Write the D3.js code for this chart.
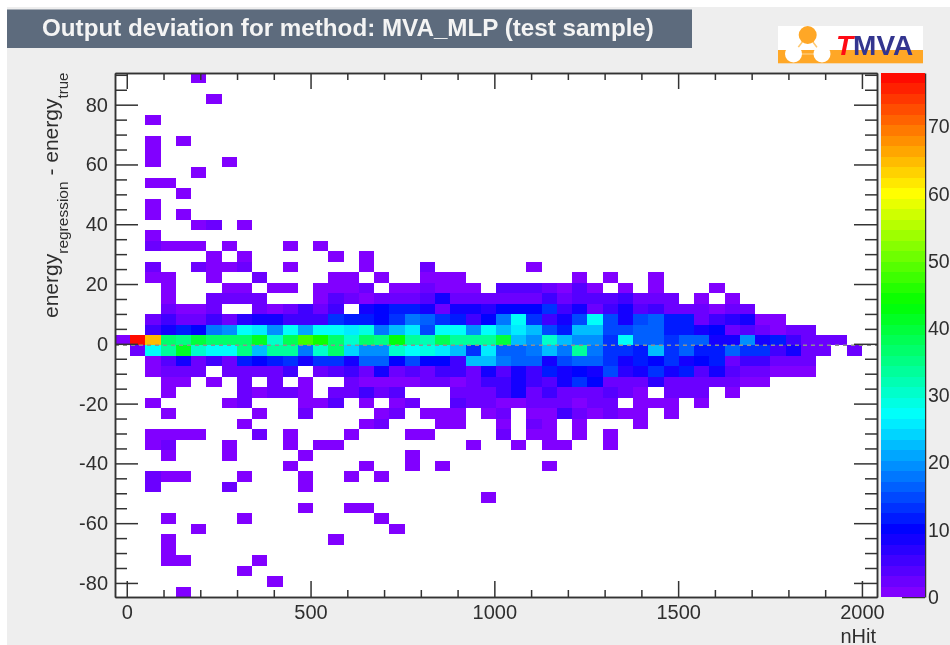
<!DOCTYPE html>
<html><head><meta charset="utf-8">
<script src="https://cdn.jsdelivr.net/npm/d3@7/dist/d3.min.js"></script>
<style>
html,body{margin:0;padding:0;background:#fff;overflow:hidden}
#w{width:950px;height:645px;filter:blur(0.65px)}
svg{display:block}
text{font-family:"Liberation Sans",Arial,sans-serif}
</style></head><body>
<div id="w"><svg id="c" width="950" height="645"></svg></div>
<script>
const titleText = "Output deviation for method: MVA_MLP (test sample)";
const xLabel = "nHit";
const xTicks = [0, 500, 1000, 1500, 2000];
const xMinorTicks = d3.range(0, 2001, 100);
const yTicks = [-80, -60, -40, -20, 0, 20, 40, 60, 80];
const yMinorTicks = d3.range(-80, 91, 5);
const zTicks = [0, 10, 20, 30, 40, 50, 60, 70];
const xBinCount = 50, yBinCount = 50;
const xRange = [-32, 2041], yRange = [-84.7, 90.6], zMax = 78;
const paletteStops = [0, 10, 27, 43.7, 60, 78];
const paletteColors = ["#8c00ff", "#0000ff", "#00ffff", "#00ff00", "#ffff00", "#ff0000"];

// [row from the top, [first column, counts...], [first column, counts...], ...]
const counts = [
[0,[5,1]],[2,[6,1]],[4,[2,1]],[6,[2,1],[4,1]],[7,[2,1]],[8,[2,1],[7,1]],[9,[5,1]],[10,[2,1,1]],[11,[4,1]],
[12,[2,1]],[13,[2,1],[4,1]],[14,[5,1,2],[8,1]],[15,[2,1]],[16,[2,2,1,1,1],[7,1],[11,1],[13,1]],
[17,[6,1],[8,1],[14,1],[16,1]],[18,[2,2],[5,2,1,1,2],[11,1],[16,1],[20,2],[27,1]],
[19,[2,1,1],[6,1],[9,2],[14,1,1],[17,1],[20,1,1,1],[30,1],[32,1],[35,1]],
[20,[3,1],[7,1,1],[10,1,1],[13,1,1,1,2],[18,1,1,3,1,1,1],[25,4,4,4,2,1,4,1],[33,1],[35,1],[39,1]],
[21,[3,1],[6,3,3,2,3],[13,1,4,3,1,2,2,3,4,8,2,2,2,2,2,2,5,3,4,4,4,6,2,2,2],[38,1],[40,1]],
[22,[3,2,1,1,2],[9,2,1,2,5,2,6],[16,8,10,11,11,9,2,9,8,7,10,10,10,13,6,8,3,5,9,4,5,3,2,2,1,2,2]],
[23,[2,3,5,3,3,6,3,7,8,9,5,6,6,13,11,11,10,14,18,17,13,11,5,10,18,27,13,5,9,15,27,15,9,15,16,12,12,2,5,7,8,1,1]],
[24,[2,5,9,12,10,18,20,27,25,19,28,21,27,27,25,29,18,23,25,15,27,27,19,28,23,25,23,15,11,22,23,15,15,16,16,11,11,8,10,3,4,3,1,2,2]],
[25,[0,1,78,65,36,35,40,36,36,37,42,30,38,48,45,37,30,36,35,43,33,32,38,33,33,34,39,23,19,30,22,19,19,14,27,17,17,14,16,16,9,8,19,9,11,6,2,2,2]],
[26,[1,2,27,34,42,30,28,27,35,22,34,33,18,30,36,24,19,19,30,27,29,25,22,14,26,16,17,18,22,18,33,18,14,13,12,22,13,17,11,12,16,13,13,5,8,2,2],[48,2]],
[27,[2,1,4,8,2,5,2,11,10,11,14,8,13,13,9,17,17,10,15,10,10,5,22,23,18,17,17,9,15,17,17,14,8,12,10,13,8,10,12,3,6,5,3,2,2]],
[28,[2,1,2,2,2],[7,3,2,2,2,6],[13,3,4,5,2,9,3,4,3,5,5,2,8,4,9,6,12,9,10,8,15,7,8,14,8,11,4,9,4,2,3,1,1,1]],
[29,[3,1,1],[6,1],[8,2],[10,2],[12,1],[15,2,1,1,1,1,3,3,1,2,5,6,8,6,4,9,13,10,3,3,3,7,2,3,2,2,2,1,1]],
[30,[3,1],[8,3,1,2,2,1],[14,3,2,5,2,4],[22,3,2,2,5,9,3,6,3,2,3,4,2,1],[36,3,3,2],[40,1]],
[31,[2,1],[7,1,2],[12,1,1,4],[16,1],[18,1,2],[22,4,2,2,1,1,2,3,2,1,2,2],[34,1,1,1],[38,1]],
[32,[3,1],[9,1],[12,3],[17,1,2],[20,1,1,1],[24,1,3],[27,1,1,5,3,1,2,1,1],[36,1]],
[33,[8,1],[16,1,3],[21,1,1],[25,1],[27,3,1],[30,1],[34,1]],
[34,[2,1,1,1,1],[9,3],[11,1],[15,1],[19,1,1],[25,3],[27,1,1],[30,1],[32,1]],
[35,[2,1,3],[7,1],[11,1],[13,1,1],[23,1],[26,1],[28,1,1],[32,1]],
[36,[3,1],[7,1],[12,1],[19,1]],[37,[11,1],[16,1],[19,1],[21,1],[28,1]],
[38,[2,3,1,1],[8,1],[12,1],[15,1],[17,1]],[39,[2,2],[7,3],[12,1]],[40,[24,1]],[41,[12,1],[15,1,1]],
[42,[3,1],[8,1],[17,1]],[43,[5,1],[18,1]],[44,[3,1],[14,1]],[45,[3,1]],[46,[3,1,1],[9,1]],[47,[8,1]],[48,[10,1]],[49,[4,1]]
];

const svg = d3.select("#c");
const plot = {l:115, r:877, t:73, b:597};
const x = d3.scaleLinear().domain(xRange).range([plot.l, plot.r]);
const y = d3.scaleLinear().domain(yRange).range([plot.b, plot.t]);
const z = d3.scaleLinear().domain([0, zMax]).range([plot.b, plot.t]);
const colour = d3.scaleLinear().domain(paletteStops).range(paletteColors).interpolate(d3.interpolateRgb);
const xBin = (xRange[1]-xRange[0])/xBinCount, yBin = (yRange[1]-yRange[0])/yBinCount, zBin = zMax/50;
const bandColour = v => colour((Math.min(Math.floor(v/zBin),49)+0.5)*zBin);
const plain = d => String(d);

const cells = [];
counts.forEach(([row, ...runs]) => runs.forEach(([col, ...vals]) => vals.forEach((v,i) => {
  if (v>0) cells.push({x0:xRange[0]+(col+i)*xBin, y1:yRange[1]-row*yBin, v});
})));

// page
svg.append("rect").attr("x",7).attr("y",7).attr("width",943).attr("height",638).attr("fill","#eeeeee");
svg.append("rect").attr("x",7).attr("y",9.5).attr("width",685).attr("height",38.5).attr("fill","#5d6b7d");
svg.append("text").attr("x",42).attr("y",36).attr("fill","#f4f4f4").attr("font-weight","bold").attr("font-size",24.2).text(titleText);

// logo
const logo = svg.append("g");
logo.append("rect").attr("x",778).attr("y",26).attr("width",145).attr("height",37).attr("fill","#fff");
logo.append("rect").attr("x",778).attr("y",50).attr("width",145).attr("height",13.3).attr("fill","#ffa726");
logo.append("path").attr("d","M807.7 35L793 54M807.7 35L822 54M793 54H822").attr("stroke","#ffc870").attr("stroke-width",1.5).attr("fill","none");
logo.append("circle").attr("cx",807.7).attr("cy",35).attr("r",9).attr("fill","#ffa726");
logo.append("circle").attr("cx",793.5).attr("cy",54).attr("r",8.5).attr("fill","#fff");
logo.append("circle").attr("cx",822).attr("cy",54).attr("r",8.5).attr("fill","#fff");
const lt = logo.append("text").attr("x",836).attr("y",55).attr("font-size",28).attr("font-weight","bold");
lt.append("tspan").attr("fill","#ff0a14").attr("font-style","italic").text("T");
lt.append("tspan").attr("fill","#33358f").text("MVA");

// plot area
svg.append("rect").attr("x",plot.l).attr("y",plot.t).attr("width",plot.r-plot.l).attr("height",plot.b-plot.t).attr("fill","#fff");
svg.append("g").attr("shape-rendering","crispEdges").selectAll("rect").data(cells).join("rect")
  .attr("x",d=>x(d.x0)).attr("y",d=>y(d.y1))
  .attr("width",d=>x(d.x0+xBin)-x(d.x0)).attr("height",d=>y(d.y1-yBin)-y(d.y1))
  .attr("fill",d=>bandColour(d.v));
svg.append("line").attr("x1",plot.l).attr("x2",plot.r).attr("y1",y(-0.5)).attr("y2",y(-0.5))
  .attr("stroke","#8f8f8f").attr("stroke-width",1.4).attr("stroke-dasharray","4 4");

const styleAxis = g => { g.selectAll("path,line").attr("stroke","#333").attr("stroke-width",1.5);
  g.selectAll("text").attr("fill","#2e2e2e").attr("font-size",20); };
const axes = svg.append("g");
const add = (gen, tx, ty) => axes.append("g").attr("transform",`translate(${tx},${ty})`).call(gen).call(styleAxis);
const yMinor = yMinorTicks.filter(v=>!yTicks.includes(v));
const xMinor = xMinorTicks.filter(v=>!xTicks.includes(v));
add(d3.axisBottom(x).tickValues(xMinor).tickFormat("").tickSizeInner(-7).tickSizeOuter(0),0,plot.b);
add(d3.axisTop(x).tickValues(xMinor).tickFormat("").tickSizeInner(-7).tickSizeOuter(0),0,plot.t);
add(d3.axisTop(x).tickValues(xTicks).tickFormat("").tickSizeInner(-16).tickSizeOuter(0),0,plot.t);
add(d3.axisBottom(x).tickValues(xTicks).tickFormat(plain).tickSizeInner(-16).tickSizeOuter(0).tickPadding(8),0,plot.b);
add(d3.axisLeft(y).tickValues(yMinor).tickFormat("").tickSizeInner(-12).tickSizeOuter(0),plot.l,0);
add(d3.axisRight(y).tickValues(yMinor).tickFormat("").tickSizeInner(-12).tickSizeOuter(0),plot.r,0);
add(d3.axisRight(y).tickValues(yTicks).tickFormat("").tickSizeInner(-23).tickSizeOuter(0),plot.r,0);
add(d3.axisLeft(y).tickValues(yTicks).tickFormat(plain).tickSizeInner(-23).tickSizeOuter(0).tickPadding(7),plot.l,0);

// labels
svg.append("text").attr("x",876).attr("y",642.5).attr("text-anchor","end").attr("font-size",20).attr("fill","#2e2e2e").text(xLabel);
const yt = svg.append("text").attr("transform","translate(58,318) rotate(-90)").attr("font-size",21).attr("fill","#2e2e2e");
yt.append("tspan").text("energy");
yt.append("tspan").attr("dy",10).attr("font-size",15.5).text("regression");
yt.append("tspan").attr("dy",-10).text(" - energy");
yt.append("tspan").attr("dy",10).attr("font-size",15).text("true");

// colour bar
const barX = 881, barW = 44;
svg.append("g").attr("shape-rendering","crispEdges").selectAll("rect").data(d3.range(50)).join("rect")
  .attr("x",barX).attr("width",barW)
  .attr("y",i=>z((i+1)*zBin)).attr("height",i=>z(i*zBin)-z((i+1)*zBin))
  .attr("fill",i=>bandColour((i+0.5)*zBin));
add(d3.axisRight(z).tickValues(zTicks).tickFormat(plain).tickSizeInner(-23).tickSizeOuter(0).tickPadding(3),barX+barW,0)
  .selectAll("text").attr("font-size",19.5);
</script>
</body></html>
